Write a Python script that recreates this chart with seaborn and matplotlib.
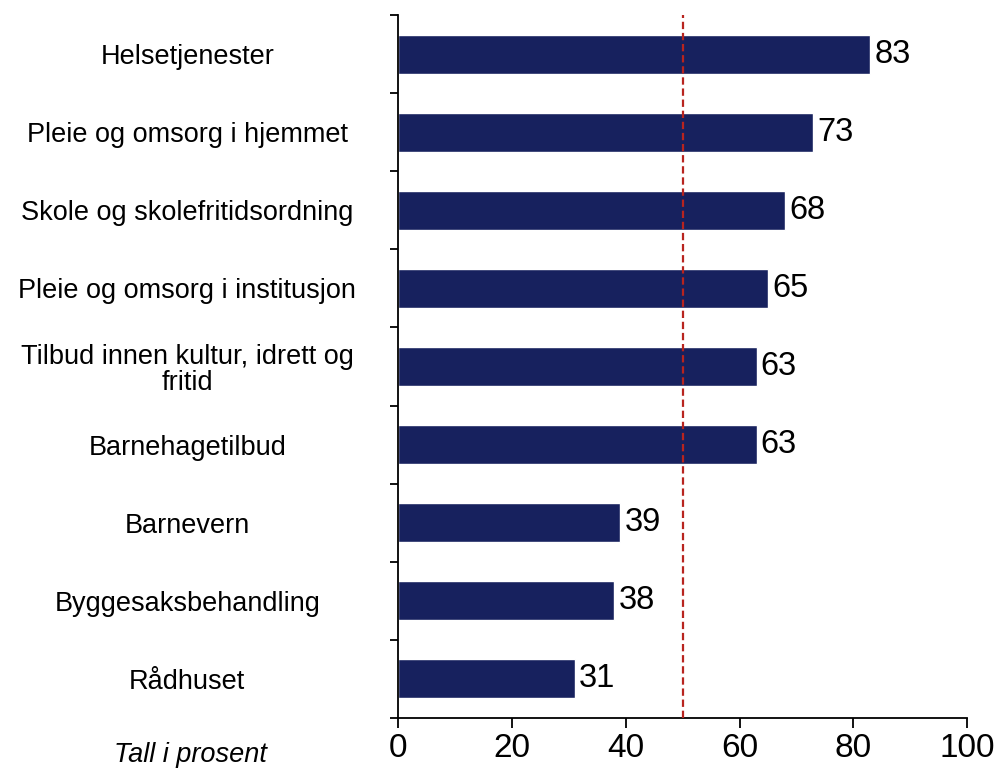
import numpy as np
import pandas as pd
import matplotlib
matplotlib.use("Agg")
import matplotlib.pyplot as plt
import seaborn as sns

categories = ["Helsetjenester", "Pleie og omsorg i hjemmet", "Skole og skolefritidsordning",
              "Pleie og omsorg i institusjon", "Tilbud innen kultur, idrett og\nfritid",
              "Barnehagetilbud", "Barnevern", "Byggesaksbehandling", "Rådhuset"]
values = [83, 73, 68, 65, 63, 63, 39, 38, 31]
xticks = [0, 20, 40, 60, 80, 100]

sns.set_style("white")
plt.rcParams["font.family"] = ["Liberation Sans", "DejaVu Sans"]
plt.rcParams["text.color"] = "black"
plt.rcParams["xtick.color"] = "black"
plt.rcParams["ytick.color"] = "black"

df = pd.DataFrame({"kategori": categories, "prosent": values})

fig = plt.figure(figsize=(10.01, 7.7), dpi=100)
ax = fig.add_axes([0.398, 0.0675, 0.568, 0.9130])
sns.barplot(data=df, x="prosent", y="kategori", color="#17215e", width=0.5,
            saturation=1, ax=ax)
for c in ax.containers:
    ax.bar_label(c, padding=3, fontsize=23.5, color="black")

# referanselinje ved 50 %
ax.axvline(50, color="#b8241f", linestyle=(0, (3.3, 1.7)), linewidth=1.6, zorder=5)

ax.set_xlim(0, 100)
ax.set_ylim(len(categories) - 0.5, -0.5)
ax.set_xticks(xticks)
ax.set_xticklabels([str(t) for t in xticks], fontsize=24)
ax.set_yticks(np.arange(len(categories)))
ax.set_yticklabels(categories, fontsize=19.5, ha="center", linespacing=1.0)
ax.set_yticks(np.arange(-0.5, len(categories), 1), minor=True)
ax.tick_params(axis="y", which="major", length=0, pad=152)
ax.tick_params(axis="y", which="minor", length=6, width=1.3, direction="out", left=True)
ax.tick_params(axis="x", length=7, width=1.3, direction="out", bottom=True, pad=4)
ax.set_xlabel("")
ax.set_ylabel("")

sns.despine(ax=ax, top=True, right=True)
for s in ["left", "bottom"]:
    ax.spines[s].set_color("black")
    ax.spines[s].set_linewidth(1.3)

fig.text(0.19, 0.0104, "Tall i prosent", ha="center", va="baseline", fontsize=19.5, style="italic")

fig.savefig("out.png", dpi=100)
